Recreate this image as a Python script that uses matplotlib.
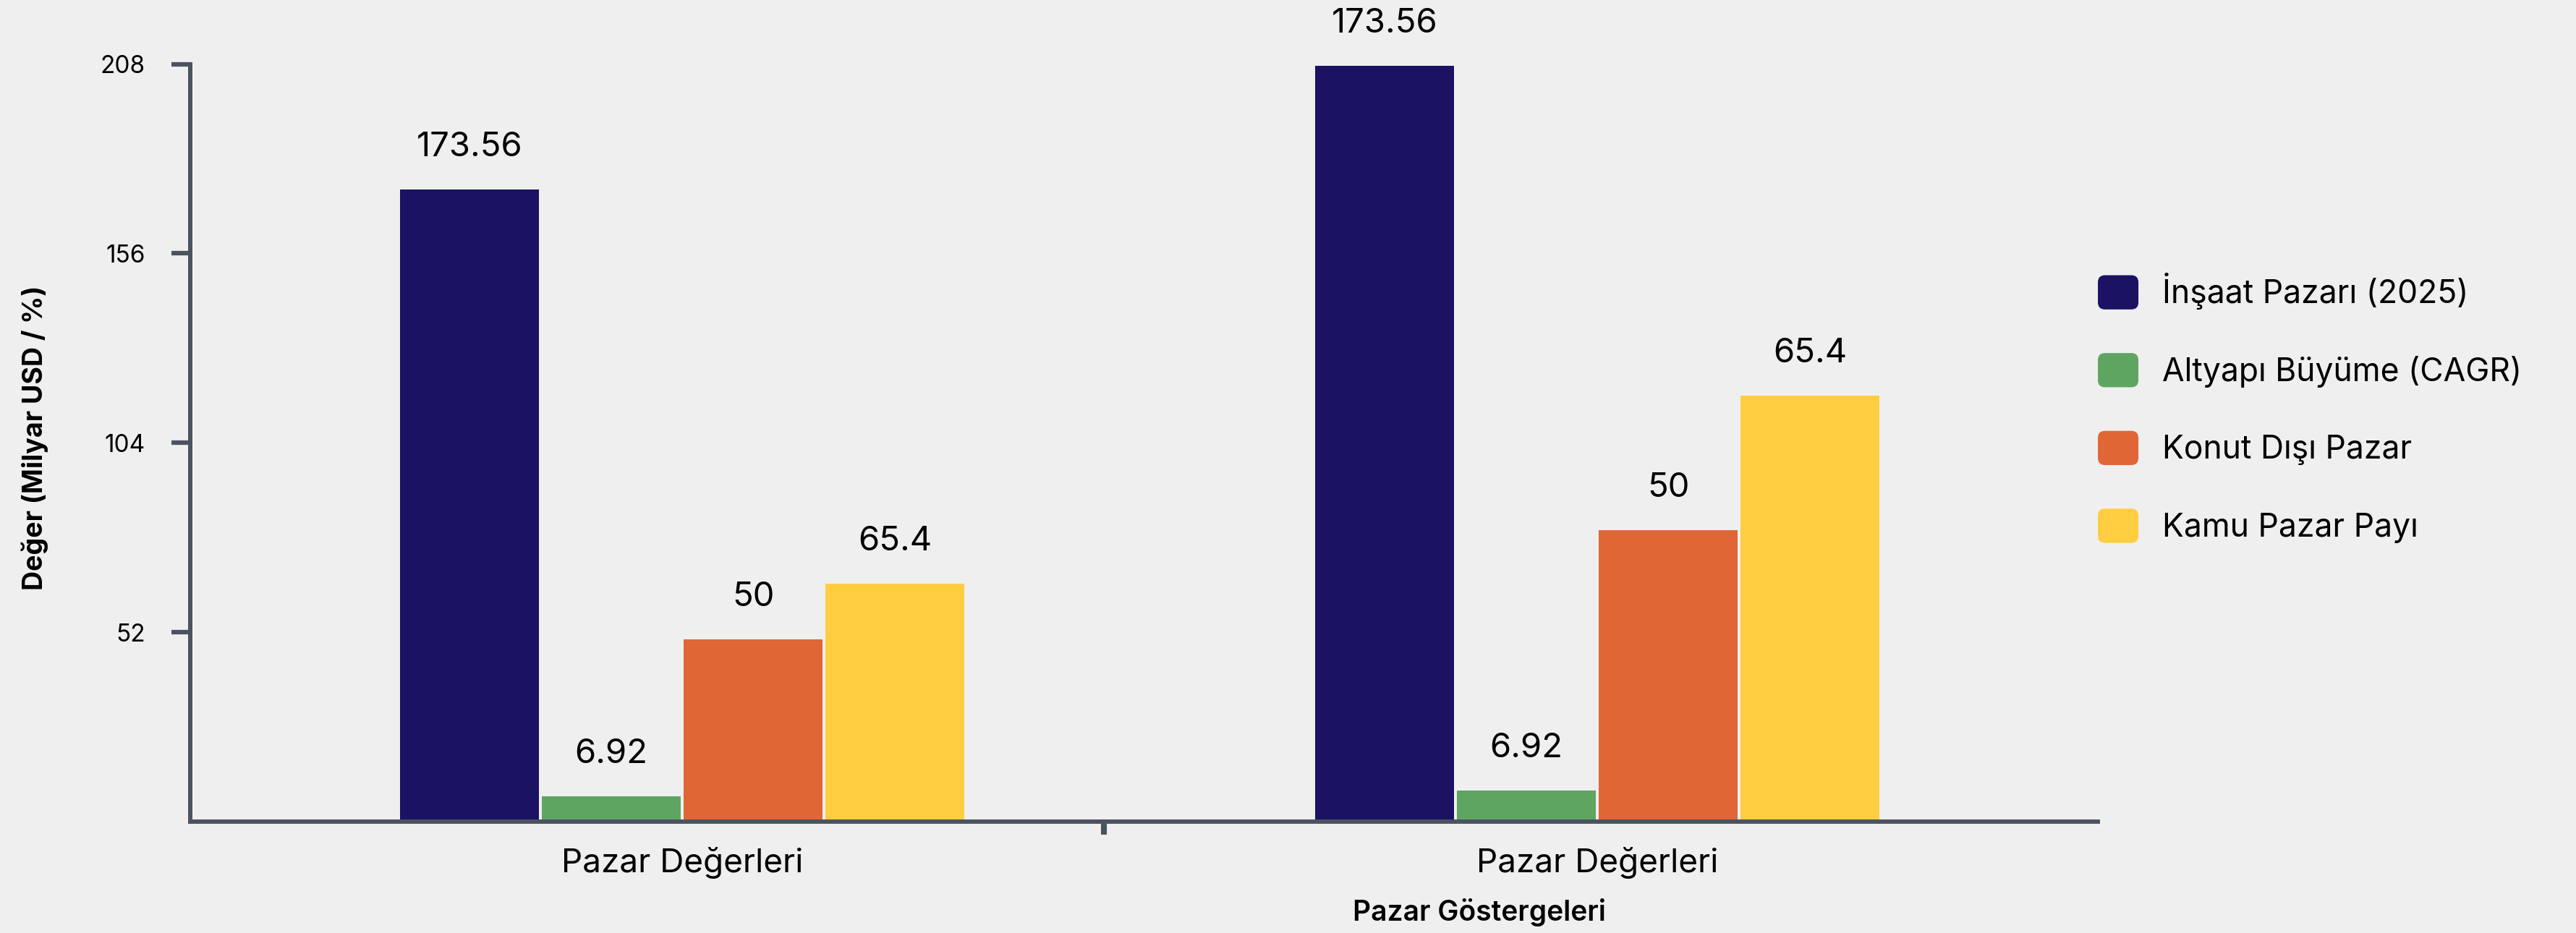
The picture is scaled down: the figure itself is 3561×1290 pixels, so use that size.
import matplotlib.pyplot as plt
from matplotlib.legend_handler import HandlerPatch
from matplotlib.patches import FancyBboxPatch, Patch

plt.rcParams['font.family'] = ['Inter', 'DejaVu Sans']

# data
groups = ['Pazar Değerleri', 'Pazar Değerleri']
series = ['İnşaat Pazarı (2025)', 'Altyapı Büyüme (CAGR)', 'Konut Dışı Pazar', 'Kamu Pazar Payı']
colors = ['#1B1264', '#5EA562', '#E06636', '#FFCD40']
# bar heights per group (as drawn)
heights_g1 = [173.56, 6.92, 50, 65.4]
heights_g2 = [207.5, 8.5, 80, 117]
# text shown above bars (same for both groups)
labels_shown = ['173.56', '6.92', '50', '65.4']
yticks = [52, 104, 156, 208]

axis_col = '#4B5360'
bg = '#EFEFEF'

fig = plt.figure(figsize=(35.61, 12.9), dpi=100, facecolor=bg)
ax = fig.add_axes([0.0739, 0.1194, 0.7405, 0.8119])
ax.set_facecolor(bg)

step = 0.155
width = 0.1518
for i, name in enumerate(series):
    xs = [0 + (i - 1.5) * step, 1 + (i - 1.5) * step]
    hs = [heights_g1[i], heights_g2[i]]
    ax.bar(xs, hs, width=width, color=colors[i], label=name, zorder=2)
    for x, h in zip(xs, hs):
        ax.annotate(labels_shown[i], (x, h), xytext=(0, 33), textcoords='offset points',
                    ha='center', va='baseline', fontsize=34, color='black')

ax.set_ylim(0, 208)
ax.set_xlim(-0.5375, 1.547)

for s in ['top', 'right']:
    ax.spines[s].set_visible(False)
for s in ['left', 'bottom']:
    ax.spines[s].set_color(axis_col)
    ax.spines[s].set_linewidth(4.3)

ax.set_yticks(yticks)
ax.set_yticklabels([str(v) for v in yticks])
ax.tick_params(axis='y', length=19, width=4.5, color=axis_col, pad=26, labelsize=24)

ax.set_xticks([0.461])
ax.set_xticklabels([''])
ax.set_xticks([0, 1], minor=True)
ax.set_xticklabels(groups, minor=True)
ax.tick_params(axis='x', which='major', length=13, width=5.8, color=axis_col)
ax.tick_params(axis='x', which='minor', length=0, pad=25, labelsize=33)

ax.set_xlabel('Pazar Göstergeleri', fontsize=28, fontweight='semibold', va='center')
ax.xaxis.set_label_coords(0.6758, -0.1203)
ax.set_ylabel('Değer (Milyar USD / %)', fontsize=27, fontweight='bold', va='center')
ax.yaxis.set_label_coords(-0.0815, 0.507)


def round_box(legend, orig_handle, xdescent, ydescent, width, height, fontsize):
    return FancyBboxPatch((-xdescent, -ydescent), width, height,
                          boxstyle='round,pad=0,rounding_size=7')


handles = [Patch(facecolor=c) for c in colors]
fig.legend(handles, series, loc='center left', bbox_to_anchor=(0.8144, 0.5628),
           frameon=False, fontsize=32, handlelength=1.26, handleheight=1.26,
           handletextpad=0.74, labelspacing=1.35, borderpad=0, borderaxespad=0,
           handler_map={Patch: HandlerPatch(patch_func=round_box)})

fig.savefig('out.png', dpi=100, facecolor=bg)
